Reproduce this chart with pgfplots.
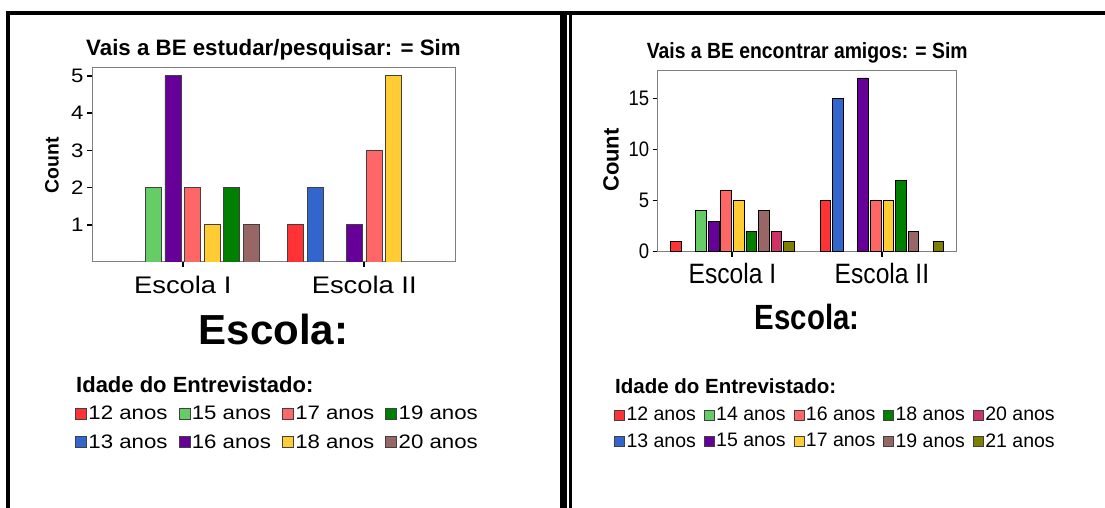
\documentclass[border=0pt]{standalone}
\usepackage{pgfplots}
\pgfplotsset{compat=1.18}
\usepackage{fontspec}
\setmainfont{Liberation Sans}
\newfontfamily\LR{Liberation Sans}[FakeStretch=1.14]
\newfontfamily\RR{Liberation Sans}[FakeStretch=0.88]
\newfontfamily\RX{Liberation Sans}[FakeStretch=0.84]

\definecolor{cRed}{HTML}{FF3333}
\definecolor{cBlue}{HTML}{3366CC}
\definecolor{cLGreen}{HTML}{66CC66}
\definecolor{cPurple}{HTML}{660099}
\definecolor{cSalmon}{HTML}{FF6666}
\definecolor{cYellow}{HTML}{FFCC33}
\definecolor{cGreen}{HTML}{008000}
\definecolor{cBrown}{HTML}{996666}
\definecolor{cCrimson}{HTML}{CC3366}
\definecolor{cOlive}{HTML}{808000}

\pgfplotsset{
  lbar/.style={ybar, bar width=0.088, draw=black!75, line width=0.8pt, fill=#1,
    legend image code/.code={\draw[fill=#1, draw=black!75, line width=0.8pt] (0pt,-5.5pt) rectangle (11pt,5.5pt);}},
  rbar/.style={ybar, bar width=0.071, draw=black, line width=0.8pt, fill=#1,
    legend image code/.code={\draw[fill=#1, draw=black!75, line width=0.8pt] (0pt,-5pt) rectangle (10pt,5pt);}},
  common/.style={
    anchor=south west, scale only axis,
    xmin=-0.5, xmax=1.5, ymin=0,
    xtick={0,1}, xticklabels={Escola I, Escola II},
    /pgf/number format/assume math mode=true,
    xtick pos=bottom, ytick pos=left,
    xtick align=outside, ytick align=outside,
    major tick length=5pt,
    tick style={draw=black, line width=1.5pt},
    axis line style={draw=black!50, line width=1pt},
    legend cell align=left,
    % group tick marks below the x axis
    after end axis/.code={
      \draw[black, line width=2pt] (axis cs:0,0) -- ++(0pt,-5pt);
      \draw[black, line width=2pt] (axis cs:1,0) -- ++(0pt,-5pt);
    },
  },
}

\begin{document}
\begin{tikzpicture}[x=1pt,y=1pt]
\path[use as bounding box] (0,0) rectangle (1105,508);
% frame
\draw[line width=4pt] (6,495) -- (1105,495);
\draw[line width=4pt] (8,497) -- (8,0);
\draw[line width=6.7pt] (563.3,497) -- (563.3,0);
\draw[line width=2.7pt] (570.3,495) -- (570.3,0);

% left chart
\begin{axis}[common,
  at={(92pt,246pt)}, width=363pt, height=194pt,
  ymax=5.21, ytick={1,2,3,4,5},
  x tick label style={font={\LR\fontsize{24}{24}\selectfont}, yshift=-6pt},
  y tick label style={font={\LR\fontsize{19.5}{20}\selectfont}},
  title={Vais a BE estudar/pesquisar: = Sim},
  title style={font={\bfseries\fontsize{22.3}{24}\selectfont}, at={(axis description cs:0.5,1)}, anchor=base, yshift=6.3pt},
  xlabel={Escola:},
  xlabel style={font={\bfseries\fontsize{42}{44}\selectfont}, at={(axis description cs:0.5,0)}, anchor=base, yshift=-83pt},
  ylabel={Count},
  ylabel style={font={\bfseries\fontsize{19.4}{20}\selectfont}, at={(axis description cs:-0.11,0.5)}, anchor=center},
  legend columns=4,
  legend style={draw=none, fill=none, inner sep=0pt, at={(axis description cs:-0.047,-0.735)}, anchor=north west,
    font={\LR\fontsize{19.5}{20}\selectfont}, nodes={inner sep=1.5pt},
    /tikz/every even column/.append style={column sep=9.5pt}, row sep=10pt},
]
% ages in legend order: 12, 15, 17, 19, 13, 16, 18, 20
\addplot[lbar=cRed, bar shift=-0.378] coordinates {(1,1)};
\addlegendentry{12 anos}
\addplot[lbar=cLGreen, bar shift=-0.162] coordinates {(0,2)};
\addlegendentry{15 anos}
\addplot[lbar=cSalmon, bar shift=0.054] coordinates {(0,2) (1,3)};
\addlegendentry{17 anos}
\addplot[lbar=cGreen, bar shift=0.270] coordinates {(0,2)};
\addlegendentry{19 anos}
\addplot[lbar=cBlue, bar shift=-0.270] coordinates {(1,2)};
\addlegendentry{13 anos}
\addplot[lbar=cPurple, bar shift=-0.054] coordinates {(0,5) (1,1)};
\addlegendentry{16 anos}
\addplot[lbar=cYellow, bar shift=0.162] coordinates {(0,1) (1,5)};
\addlegendentry{18 anos}
\addplot[lbar=cBrown, bar shift=0.378] coordinates {(0,1)};
\addlegendentry{20 anos}
\end{axis}
\node[anchor=base west, font={\bfseries\fontsize{22}{24}\selectfont}, inner sep=0pt] at (76,115) {Idade do Entrevistado:};

% right chart
\begin{axis}[common,
  at={(657.7pt,256.3pt)}, width=299pt, height=180.7pt,
  ymax=17.68, ytick={0,5,10,15},
  x tick label style={font={\RR\fontsize{28}{28}\selectfont}, yshift=-3pt},
  y tick label style={font={\RR\fontsize{21}{21}\selectfont}},
  title={Vais a BE encontrar amigos: = Sim},
  title style={font={\RR\bfseries\fontsize{22}{24}\selectfont}, at={(axis description cs:0.5,1)}, anchor=base, yshift=6.7pt},
  xlabel={Escola:},
  xlabel style={font={\RX\bfseries\fontsize{35}{36}\selectfont}, at={(axis description cs:0.5,0)}, anchor=base, yshift=-78.3pt},
  ylabel={Count},
  ylabel style={font={\bfseries\fontsize{22}{22}\selectfont}, at={(axis description cs:-0.156,0.507)}, anchor=center},
  legend columns=5,
  legend style={draw=none, fill=none, inner sep=0pt, at={(axis description cs:-0.146,-0.852)}, anchor=north west,
    font={\fontsize{19.5}{20}\selectfont}, nodes={inner sep=1.5pt},
    /tikz/every even column/.append style={column sep=6.5pt}, row sep=8pt},
]
% ages in legend order: 12, 14, 16, 18, 20, 13, 15, 17, 19, 21
\addplot[rbar=cRed, bar shift=-0.378] coordinates {(0,1) (1,5)};
\addlegendentry{12 anos}
\addplot[rbar=cLGreen, bar shift=-0.210] coordinates {(0,4)};
\addlegendentry{14 anos}
\addplot[rbar=cSalmon, bar shift=-0.042] coordinates {(0,6) (1,5)};
\addlegendentry{16 anos}
\addplot[rbar=cGreen, bar shift=0.126] coordinates {(0,2) (1,7)};
\addlegendentry{18 anos}
\addplot[rbar=cCrimson, bar shift=0.294] coordinates {(0,2)};
\addlegendentry{20 anos}
\addplot[rbar=cBlue, bar shift=-0.294] coordinates {(1,15)};
\addlegendentry{13 anos}
\addplot[rbar=cPurple, bar shift=-0.126] coordinates {(0,3) (1,17)};
\addlegendentry{15 anos}
\addplot[rbar=cYellow, bar shift=0.042] coordinates {(0,5) (1,5)};
\addlegendentry{17 anos}
\addplot[rbar=cBrown, bar shift=0.210] coordinates {(0,4) (1,2)};
\addlegendentry{19 anos}
\addplot[rbar=cOlive, bar shift=0.378] coordinates {(0,1) (1,1)};
\addlegendentry{21 anos}
\end{axis}
\node[anchor=base west, font={\bfseries\fontsize{20.5}{22}\selectfont}, inner sep=0pt] at (615,114) {Idade do Entrevistado:};
\end{tikzpicture}
\end{document}
